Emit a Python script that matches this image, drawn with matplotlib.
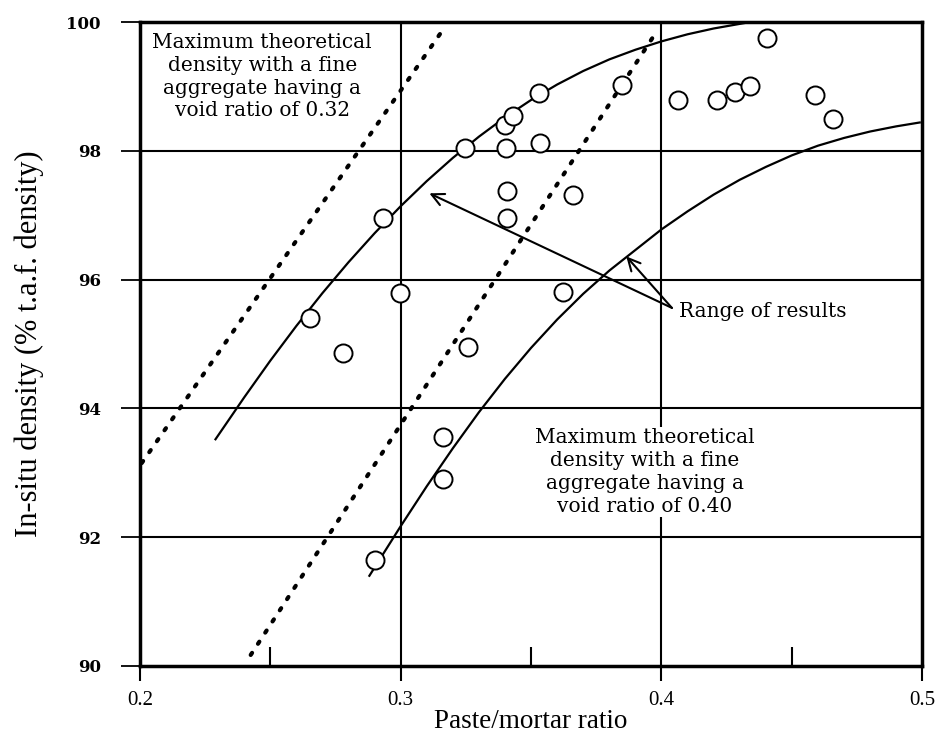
import matplotlib.pyplot as plt
from matplotlib.ticker import MultipleLocator

# measured points (paste/mortar ratio, in-situ density %)
pts_x = [0.2652, 0.2780, 0.2933, 0.2997, 0.2901, 0.3163, 0.3163, 0.3259, 0.3247,
         0.3404, 0.3407, 0.3407, 0.3400, 0.3431, 0.3532, 0.3534, 0.3662, 0.3624,
         0.3848, 0.4065, 0.4212, 0.4282, 0.4340, 0.4404, 0.4589, 0.4659]
pts_y = [95.40, 94.86, 96.95, 95.79, 91.65, 93.56, 92.91, 94.96, 98.05,
         98.05, 97.38, 96.95, 98.40, 98.54, 98.90, 98.12, 97.31, 95.81,
         99.02, 98.79, 98.79, 98.91, 99.01, 99.75, 98.87, 98.50]

# range of results curves
upper_x = [0.229, 0.240, 0.250, 0.260, 0.270, 0.280, 0.290, 0.300, 0.310, 0.320, 0.330,
           0.340, 0.350, 0.360, 0.370, 0.380, 0.390, 0.400, 0.410, 0.420, 0.434]
upper_y = [93.52, 94.17, 94.74, 95.28, 95.79, 96.27, 96.72, 97.14, 97.53, 97.89, 98.22,
           98.52, 98.79, 99.03, 99.24, 99.42, 99.57, 99.70, 99.81, 99.90, 100.0]
lower_x = [0.288, 0.300, 0.310, 0.320, 0.330, 0.340, 0.350, 0.360, 0.370, 0.380, 0.390,
           0.400, 0.410, 0.420, 0.430, 0.440, 0.450, 0.460, 0.470, 0.480, 0.490, 0.499]
lower_y = [91.40, 92.17, 92.79, 93.38, 93.94, 94.46, 94.94, 95.38, 95.78, 96.14, 96.46,
           96.78, 97.06, 97.32, 97.55, 97.75, 97.93, 98.08, 98.20, 98.30, 98.38, 98.44]

# maximum theoretical density lines (void ratio 0.32 and 0.40)
max032_x = [0.2007, 0.3174]
max032_y = [93.15, 99.95]
max040_x = [0.2425, 0.3968]
max040_y = [90.17, 99.77]

fig = plt.figure(figsize=(9.45, 7.35), dpi=100)
ax = fig.add_axes([0.148, 0.094, 0.828, 0.876])

for v in [0.3, 0.4]:
    ax.axvline(v, color='black', lw=1.5, zorder=1)
for v in [92, 94, 96, 98]:
    ax.axhline(v, color='black', lw=1.5, zorder=1)

ax.plot(upper_x, upper_y, color='black', lw=1.6, zorder=2)
ax.plot(lower_x, lower_y, color='black', lw=1.6, zorder=2)
ax.plot(max032_x, max032_y, color='black', lw=3, linestyle=(0, (0.6, 2.6)),
        dash_capstyle='round', zorder=2)
ax.plot(max040_x, max040_y, color='black', lw=3, linestyle=(0, (0.6, 2.6)),
        dash_capstyle='round', zorder=2)
ax.plot(pts_x, pts_y, 'o', mfc='white', mec='black', mew=1.4, ms=13, zorder=3)

ax.set_xlim(0.2, 0.5)
ax.set_ylim(90, 100)

ax.set_xticks([0.2, 0.3, 0.4, 0.5])
ax.set_xticklabels(['0.2', '0.3', '0.4', '0.5'], family='Liberation Serif', fontsize=15)
ax.xaxis.set_minor_locator(MultipleLocator(0.05))
ax.set_yticks([90, 92, 94, 96, 98, 100])
ax.set_yticklabels(['90', '92', '94', '96', '98', '100'], family='DejaVu Serif',
                   fontsize=12, fontweight='bold')
ax.tick_params(axis='x', which='major', direction='out', length=11, width=1.5,
               color='black', pad=7)
ax.tick_params(axis='x', which='minor', direction='in', length=14, width=1.5)
ax.tick_params(axis='y', which='major', direction='out', length=14, width=1.3,
               color='black', pad=14)
for s in ax.spines.values():
    s.set_linewidth(2.5)

ax.set_xlabel('Paste/mortar ratio', family='Liberation Serif', fontsize=19.5, labelpad=-1)
ax.set_ylabel('In-situ density (% t.a.f. density)', family='Liberation Serif',
              fontsize=22, labelpad=16)

ax.text(0.2469, 99.15, 'Maximum theoretical\ndensity with a fine\naggregate having a\nvoid ratio of 0.32',
        ha='center', va='center', family='DejaVu Serif', fontsize=14.5, linespacing=1.25,
        bbox=dict(facecolor='white', edgecolor='none', pad=1), zorder=4)
ax.text(0.3936, 93.01, 'Maximum theoretical\ndensity with a fine\naggregate having a\nvoid ratio of 0.40',
        ha='center', va='center', family='DejaVu Serif', fontsize=14.5, linespacing=1.25,
        bbox=dict(facecolor='white', edgecolor='none', pad=1), zorder=4)
ax.text(0.4067, 95.50, 'Range of results', ha='left', va='center',
        family='DejaVu Serif', fontsize=14.5, zorder=4)

ax.annotate('', xy=(0.311, 97.34), xytext=(0.4040, 95.56),
            arrowprops=dict(arrowstyle='->', lw=1.5, color='black', mutation_scale=22,
                            shrinkA=0, shrinkB=0), zorder=4)
ax.annotate('', xy=(0.3865, 96.36), xytext=(0.4040, 95.56),
            arrowprops=dict(arrowstyle='->', lw=1.5, color='black', mutation_scale=22,
                            shrinkA=0, shrinkB=0), zorder=4)

plt.savefig('out.png', dpi=100)
